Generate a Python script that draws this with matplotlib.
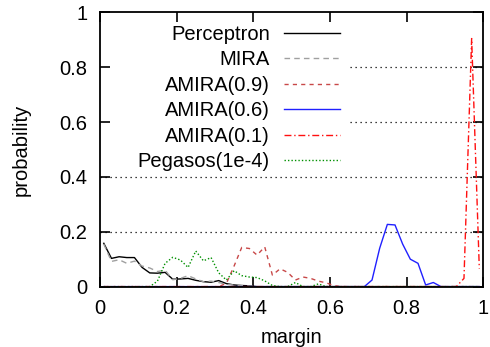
import matplotlib

matplotlib.use("Agg")

import matplotlib.pyplot as plt  # noqa: E402
import numpy as np  # noqa: E402
from matplotlib.patches import Rectangle  # noqa: E402

plt.rcParams["font.family"] = ["Liberation Sans", "DejaVu Sans"]

# histogram bin centres (50 bins of width 0.02)
margin = np.round(np.arange(50) * 0.02 + 0.01, 2)

perceptron = [0.158, 0.103, 0.109, 0.106, 0.106, 0.070, 0.050, 0.049, 0.052, 0.027,
              0.028, 0.030, 0.023, 0.018, 0.016, 0.022, 0.011, 0.006, 0.004, 0.003,
              0, 0, 0, 0, 0, 0, 0, 0, 0, 0,
              0, 0, 0, 0, 0, 0, 0, 0, 0, 0,
              0, 0, 0, 0, 0, 0, 0, 0, 0, 0]
mira = [0.155, 0.092, 0.098, 0.085, 0.093, 0.075, 0.068, 0.055, 0.060, 0.025,
        0.030, 0.040, 0.028, 0.018, 0.020, 0.015, 0.008, 0.006, 0.004, 0.002,
        0, 0, 0, 0, 0, 0, 0, 0, 0, 0,
        0, 0, 0, 0, 0, 0, 0, 0, 0, 0,
        0, 0, 0, 0, 0, 0, 0, 0, 0, 0]
amira_09 = [0, 0, 0, 0, 0, 0, 0, 0, 0, 0,
            0, 0, 0, 0, 0, 0, 0.012, 0.075, 0.143, 0.139,
            0.115, 0.145, 0.042, 0.065, 0.052, 0.024, 0.035, 0.030, 0.020, 0.014,
            0.004, 0, 0, 0, 0, 0, 0, 0, 0, 0,
            0, 0, 0, 0, 0, 0, 0, 0, 0, 0]
amira_06 = [0, 0, 0, 0, 0, 0, 0, 0, 0, 0,
            0, 0, 0, 0, 0, 0, 0, 0, 0, 0,
            0, 0, 0, 0, 0, 0, 0, 0, 0, 0,
            0, 0, 0, 0, 0, 0.024, 0.140, 0.227, 0.225, 0.155,
            0.100, 0.085, 0.006, 0.015, 0, 0, 0, 0, 0, 0]
amira_01 = [0, 0, 0, 0, 0, 0, 0, 0, 0, 0,
            0, 0, 0, 0, 0, 0, 0, 0, 0, 0,
            0, 0, 0, 0, 0, 0, 0, 0, 0, 0,
            0, 0, 0, 0, 0, 0, 0, 0, 0, 0,
            0, 0, 0, 0, 0, 0, 0, 0.030, 0.905, 0.066]
pegasos = [0, 0, 0, 0, 0, 0, 0, 0.020, 0.085, 0.107,
           0.097, 0.070, 0.130, 0.094, 0.106, 0.050, 0.024, 0.058, 0.040, 0.035,
           0.033, 0.021, 0.004, 0, 0, 0.015, 0, 0, 0.010, 0,
           0, 0, 0, 0, 0, 0, 0, 0, 0, 0,
           0, 0, 0, 0, 0, 0, 0, 0, 0, 0]

x_ticks = [0, 0.2, 0.4, 0.6, 0.8, 1]
x_ticklabels = ["0", "0.2", "0.4", "0.6", "0.8", "1"]
y_ticks = [0, 0.2, 0.4, 0.6, 0.8, 1]
y_ticklabels = ["0", "0.2", "0.4", "0.6", "0.8", "1"]

series = [
    ("Perceptron", perceptron, dict(color="black", ls="-")),
    ("MIRA", mira, dict(color="#a0a0a0", ls=(0, (4, 3)))),
    ("AMIRA(0.9)", amira_09, dict(color="#c84848", ls=(0, (3, 3)))),
    ("AMIRA(0.6)", amira_06, dict(color="#2020ff", ls="-")),
    ("AMIRA(0.1)", amira_01, dict(color="#ff1010", ls=(0, (5, 2, 1, 2)))),
    ("Pegasos(1e-4)", pegasos, dict(color="#009000", ls=(0, (1, 1.5)))),
]

FS = 14.5

fig = plt.figure(figsize=(4.9, 3.47), dpi=100)
ax = fig.add_axes([0.204, 0.174, 0.782, 0.79])

for yv in y_ticks[1:-1]:
    ax.axhline(yv, color="black", lw=0.9, ls=(0, (1, 3)), zorder=1)

# gnuplot-style opaque key box hides the grid behind it
ax.add_patch(Rectangle((0, 0.415), 0.653, 0.558, transform=ax.transAxes,
                       facecolor="white", edgecolor="none", zorder=1.5))

for label, vals, style in series:
    ax.plot(margin, vals, lw=1.0, label=label, **style)

ax.set_xlim(0, 1)
ax.set_ylim(0, 1)
ax.set_xticks(x_ticks)
ax.set_xticklabels(x_ticklabels)
ax.set_yticks(y_ticks)
ax.set_yticklabels(y_ticklabels)
ax.tick_params(direction="in", length=7, width=1.2, top=True, right=True,
               labelsize=FS, pad=9)
for sp in ax.spines.values():
    sp.set_linewidth(1.3)

ax.set_xlabel("margin", fontsize=FS, labelpad=7)
ax.set_ylabel("probability", fontsize=FS, labelpad=21)

leg = ax.legend(loc="upper right", bbox_to_anchor=(0.64, 0.973), borderaxespad=0,
                markerfirst=False, fontsize=FS, handlelength=2.8, handletextpad=0.7,
                labelspacing=0.32, borderpad=0.25, frameon=False)

fig.savefig("out.png", dpi=100)
